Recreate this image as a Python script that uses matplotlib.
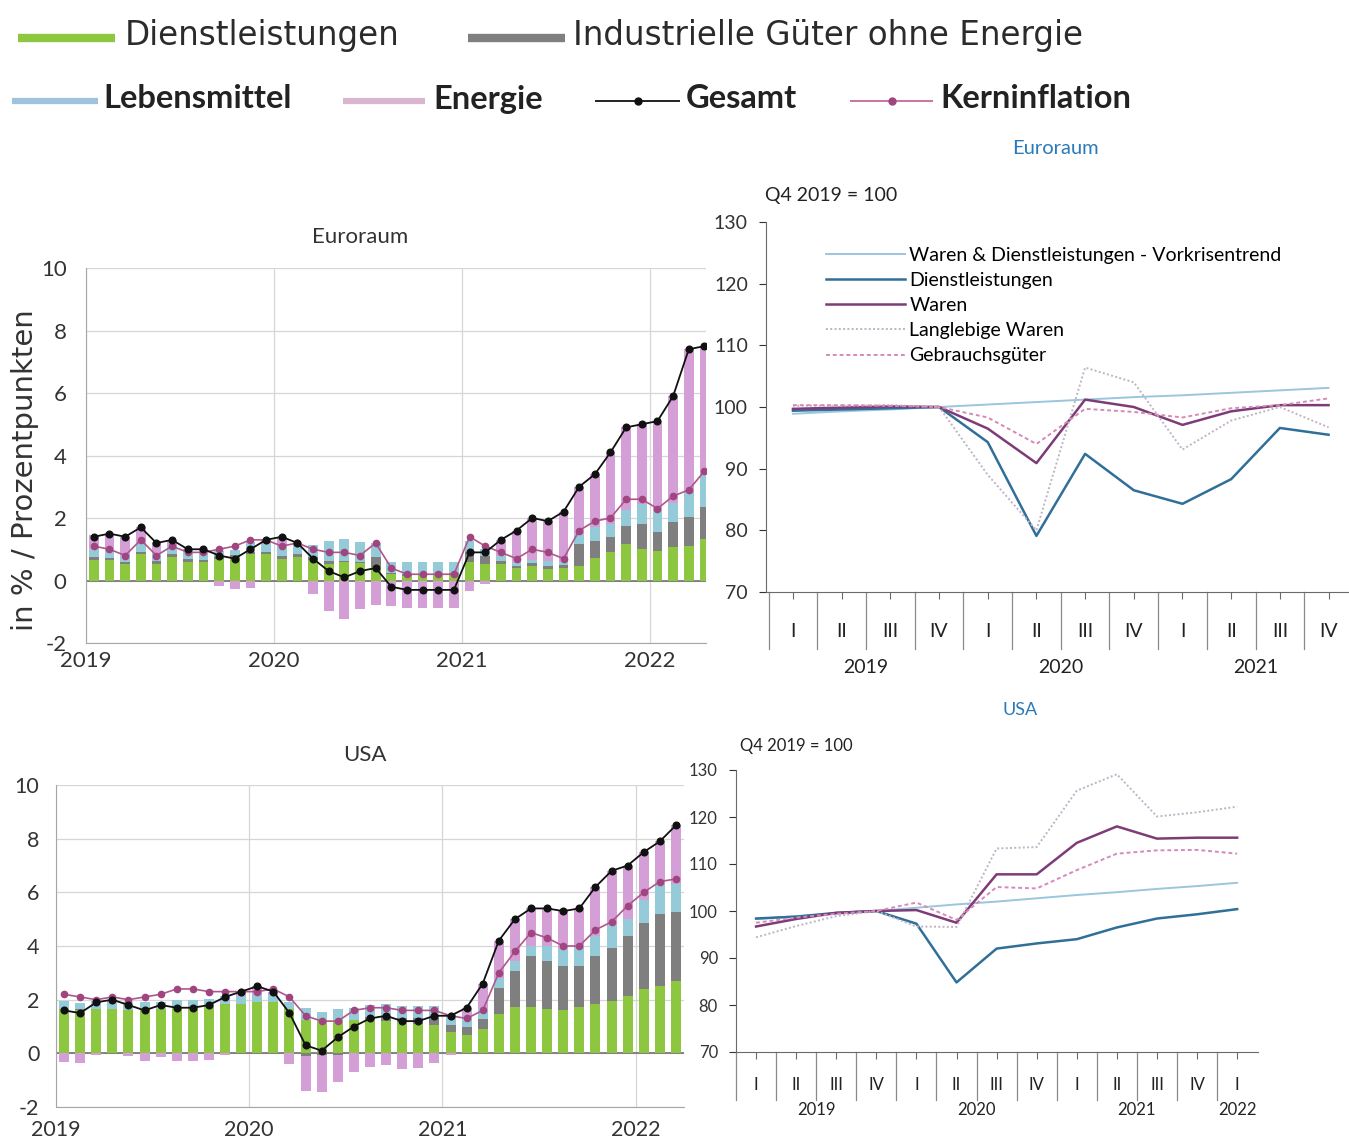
import numpy as np
import matplotlib
matplotlib.use("Agg")
import matplotlib.pyplot as plt
from matplotlib.lines import Line2D
import matplotlib.transforms as mtrans

W, H = 1349, 1142
NARROW = ['Lato', 'DejaVu Sans']
plt.rcParams['font.family'] = ['DejaVu Sans']
plt.rcParams['axes.unicode_minus'] = False

# Farben
GRUEN = '#8dc63f'
GRAU = '#7f7f7f'
HELLBLAU = '#95cbd8'
ROSA = '#d39fd6'
KERN = '#a0457f'
TREND = '#9cc6de'
DIENST_Q = '#2f6f98'
WAREN_Q = '#7d3c78'
LANGL = '#bfb3c6'
GEBR = '#d68ab8'
TITEL_BLAU = '#2a7ab9'

# Monatsdaten Euroraum (Jan 2019 - Apr 2022), Beiträge in Prozentpunkten
eu_dienst = [0.65, 0.65, 0.54, 0.86, 0.54, 0.76, 0.60, 0.60, 0.70, 0.76, 0.86, 0.86,
             0.70, 0.76, 0.65, 0.54, 0.58, 0.55, 0.42, 0.20, 0.15, 0.20, 0.18, 0.20,
             0.60, 0.52, 0.52, 0.41, 0.46, 0.36, 0.40, 0.46, 0.73, 0.90, 1.17, 1.00,
             0.95, 1.06, 1.11, 1.33]
eu_ind = [0.10, 0.08, 0.05, 0.05, 0.09, 0.09, 0.10, 0.07, 0.05, 0.05, 0.05, 0.05,
          0.08, 0.08, 0.09, 0.08, 0.06, 0.05, 0.32, 0.05, 0.05, 0.02, 0.02, 0.05,
          0.30, 0.27, 0.10, 0.05, 0.10, 0.10, 0.10, 0.70, 0.54, 0.49, 0.59, 0.81,
          0.59, 0.81, 0.92, 1.03]
eu_leb = [0.27, 0.24, 0.22, 0.27, 0.24, 0.24, 0.27, 0.25, 0.21, 0.16, 0.33, 0.27,
          0.30, 0.27, 0.40, 0.66, 0.70, 0.62, 0.45, 0.35, 0.38, 0.36, 0.38, 0.33,
          0.35, 0.22, 0.16, 0.10, 0.10, 0.15, 0.10, 0.32, 0.43, 0.43, 0.49, 0.65,
          0.70, 0.60, 0.76, 1.03]
eu_energie = [0.43, 0.53, 0.59, 0.52, 0.33, 0.21, 0.03, 0.08, -0.16, -0.27, -0.24, 0.12,
              0.32, 0.09, -0.44, -0.98, -1.24, -0.92, -0.79, -0.80, -0.88, -0.88, -0.88, -0.88,
              -0.35, -0.11, 0.52, 1.04, 1.34, 1.29, 1.60, 1.52, 1.70, 2.28, 2.65, 2.54,
              2.86, 3.43, 4.61, 4.11]
eu_gesamt = [1.4, 1.5, 1.4, 1.7, 1.2, 1.3, 1.0, 1.0, 0.8, 0.7, 1.0, 1.3,
             1.4, 1.2, 0.7, 0.3, 0.1, 0.3, 0.4, -0.2, -0.3, -0.3, -0.3, -0.3,
             0.9, 0.9, 1.3, 1.6, 2.0, 1.9, 2.2, 3.0, 3.4, 4.1, 4.9, 5.0,
             5.1, 5.9, 7.4, 7.5]
eu_kern = [1.1, 1.0, 0.8, 1.3, 0.8, 1.1, 0.9, 0.9, 1.0, 1.1, 1.3, 1.3,
           1.1, 1.2, 1.0, 0.9, 0.9, 0.8, 1.2, 0.4, 0.2, 0.2, 0.2, 0.2,
           1.4, 1.1, 0.9, 0.7, 1.0, 0.9, 0.7, 1.6, 1.9, 2.0, 2.6, 2.6,
           2.3, 2.7, 2.9, 3.5]

# Monatsdaten USA (Jan 2019 - Mär 2022)
us_dienst = [1.67, 1.62, 1.65, 1.65, 1.62, 1.62, 1.65, 1.72, 1.72, 1.75, 1.85, 1.85,
             1.90, 1.90, 1.65, 1.25, 1.20, 1.20, 1.25, 1.25, 1.20, 1.15, 1.10, 1.05,
             0.80, 0.67, 0.92, 1.47, 1.72, 1.72, 1.66, 1.60, 1.72, 1.84, 1.96, 2.15,
             2.39, 2.52, 2.70]
us_ind = [0.00, 0.02, 0.02, 0.00, 0.00, 0.00, 0.00, 0.02, 0.00, 0.00, 0.00, 0.00,
          0.00, 0.00, 0.00, -0.10, -0.05, -0.05, 0.00, 0.10, 0.18, 0.18, 0.20, 0.25,
          0.25, 0.30, 0.37, 0.98, 1.35, 1.90, 1.78, 1.66, 1.53, 1.78, 1.96, 2.21,
          2.45, 2.66, 2.58]
us_leb = [0.27, 0.25, 0.28, 0.28, 0.28, 0.30, 0.28, 0.25, 0.25, 0.27, 0.27, 0.28,
          0.28, 0.28, 0.28, 0.45, 0.35, 0.45, 0.45, 0.45, 0.45, 0.45, 0.45, 0.45,
          0.42, 0.40, 0.37, 0.37, 0.37, 0.37, 0.55, 0.61, 0.67, 0.74, 0.86, 0.65,
          0.86, 1.08, 1.04]
us_energie = [-0.34, -0.37, -0.05, 0.07, -0.10, -0.30, -0.15, -0.30, -0.30, -0.25, -0.05, 0.17,
              0.32, 0.12, -0.40, -1.30, -1.40, -1.00, -0.70, -0.50, -0.43, -0.58, -0.55, -0.35,
              -0.07, 0.33, 0.94, 1.38, 1.56, 1.41, 1.41, 1.43, 1.48, 1.84, 2.02, 1.99,
              1.80, 1.64, 2.18]
us_gesamt = [1.6, 1.5, 1.9, 2.0, 1.8, 1.6, 1.8, 1.7, 1.7, 1.8, 2.1, 2.3,
             2.5, 2.3, 1.5, 0.3, 0.1, 0.6, 1.0, 1.3, 1.4, 1.2, 1.2, 1.4,
             1.4, 1.7, 2.6, 4.2, 5.0, 5.4, 5.4, 5.3, 5.4, 6.2, 6.8, 7.0,
             7.5, 7.9, 8.5]
us_kern = [2.2, 2.1, 2.0, 2.1, 2.0, 2.1, 2.2, 2.4, 2.4, 2.3, 2.3, 2.3,
           2.3, 2.4, 2.1, 1.4, 1.2, 1.2, 1.6, 1.7, 1.7, 1.6, 1.6, 1.6,
           1.4, 1.3, 1.6, 3.0, 3.8, 4.5, 4.3, 4.0, 4.0, 4.6, 4.9, 5.5,
           6.0, 6.4, 6.5]

jahre = ['2019', '2020', '2021', '2022']

# Quartalsdaten, Q4 2019 = 100
quartale_eu = ['I', 'II', 'III', 'IV'] * 3
jahre_eu = ['2019', '2020', '2021']
eu_q_trend = [98.9, 99.3, 99.6, 100.0, 100.4, 100.8, 101.2, 101.6, 101.9, 102.3, 102.7, 103.1]
eu_q_dienst = [99.4, 99.6, 99.8, 100.0, 94.3, 79.1, 92.4, 86.5, 84.3, 88.3, 96.6, 95.5]
eu_q_waren = [99.7, 99.9, 100.1, 100.0, 96.5, 90.9, 101.2, 100.0, 97.1, 99.3, 100.3, 100.3]
eu_q_langl = [100.2, 100.2, 100.3, 100.0, 89.0, 80.0, 106.4, 104.0, 93.1, 97.8, 100.0, 96.7]
eu_q_gebr = [100.3, 100.3, 100.2, 100.0, 98.3, 94.0, 99.7, 99.2, 98.3, 99.8, 100.3, 101.4]

quartale_us = ['I', 'II', 'III', 'IV'] * 3 + ['I']
jahre_us = ['2019', '2020', '2021', '2022']
us_q_trend = [98.3, 98.9, 99.4, 100.0, 100.7, 101.4, 102.0, 102.7, 103.4, 104.0, 104.7, 105.3, 106.0]
us_q_dienst = [98.4, 98.8, 99.6, 100.0, 97.3, 84.8, 92.0, 93.1, 94.0, 96.5, 98.4, 99.3, 100.4]
us_q_waren = [96.7, 98.3, 99.6, 100.0, 100.2, 97.5, 107.8, 107.8, 114.5, 118.0, 115.4, 115.6, 115.6]
us_q_langl = [94.4, 96.8, 98.9, 100.0, 96.7, 96.6, 113.3, 113.6, 125.6, 129.1, 120.1, 121.0, 122.2]
us_q_gebr = [97.5, 98.6, 99.4, 100.0, 101.8, 98.1, 105.1, 104.8, 108.7, 112.2, 112.9, 113.0, 112.2]

fig = plt.figure(figsize=(W / 100, H / 100), dpi=100)


def box(x0, y0, x1, y1):
    # Pixelkoordinaten (oben links) -> Figure-Anteile
    return [x0 / W, 1 - y1 / H, (x1 - x0) / W, (y1 - y0) / H]


def ftext(x, y, s, **kw):
    fig.text(x / W, 1 - y / H, s, **kw)


def leg_linie(x0, x1, y, farbe, lw, marker=None, mfarbe=None):
    fig.add_artist(Line2D([x0 / W, x1 / W], [1 - y / H, 1 - y / H], color=farbe, lw=lw,
                          transform=fig.transFigure, solid_capstyle='butt'))
    if marker:
        xm = (x0 + x1) / 2
        fig.add_artist(Line2D([xm / W], [1 - y / H], marker=marker, ms=5, color=mfarbe,
                              transform=fig.transFigure))


# Legende oben
ftext(125, 35, 'Dienstleistungen', fontsize=23.5, va='center', color='#2b2b2b')
leg_linie(18, 115, 38, GRUEN, 6)
ftext(573, 35, 'Industrielle Güter ohne Energie', fontsize=23.5, va='center', color='#2b2b2b')
leg_linie(468, 565, 38, GRAU, 6)

for txt, tx in [('Lebensmittel', 103), ('Energie', 433), ('Gesamt', 686), ('Kerninflation', 940)]:
    ftext(tx, 99, txt, fontsize=23.5, va='center', family=NARROW, weight='bold', color='#222222')
leg_linie(12, 98, 101, '#9fc3df', 4.5)
leg_linie(343, 425, 101, '#d8b6d0', 4.5)
leg_linie(595, 680, 101, '#111111', 1.3, 'o', '#111111')
leg_linie(850, 933, 101, '#c46a98', 1.3, 'o', KERN)

ftext(25, 470, 'in % / Prozentpunkten', fontsize=21, rotation=90, ha='center', va='center',
      color='#333333')


def balkenchart(rect, teile, gesamt, kern, xmax, fs, pad_y, pad_x):
    ax = fig.add_axes(rect)
    n = len(gesamt)
    x = np.arange(n) + 0.5
    oben = np.zeros(n)
    unten = np.zeros(n)
    for werte, farbe in zip(teile, [GRUEN, GRAU, HELLBLAU, ROSA]):
        w = np.array(werte)
        basis = np.where(w >= 0, oben, unten)
        ax.bar(x, w, width=0.62, bottom=basis, color=farbe, linewidth=0, zorder=2)
        oben += np.clip(w, 0, None)
        unten += np.clip(w, None, 0)
    ax.plot(x, kern, color='#b0568c', lw=1.2, marker='o', ms=4.5, mfc=KERN, mec=KERN, zorder=4)
    ax.plot(x, gesamt, color='#111111', lw=1.3, marker='o', ms=4.8, zorder=5)
    ax.axhline(0, color='#7a7a7a', lw=1.3, zorder=1)
    ax.set_xlim(0, xmax)
    ax.set_ylim(-2, 10)
    ax.set_yticks(range(-2, 11, 2))
    ax.set_xticks([0, 12, 24, 36])
    ax.set_xticklabels(jahre)
    ax.grid(color='#d6d6d6', lw=0.9, zorder=0)
    ax.set_axisbelow(True)
    for s in ['top', 'right']:
        ax.spines[s].set_visible(False)
    for s in ['left', 'bottom']:
        ax.spines[s].set_color('#a6a6a6')
    ax.tick_params(axis='y', length=0, pad=pad_y, labelsize=fs, colors='#333333')
    ax.tick_params(axis='x', length=0, pad=pad_x, labelsize=fs, colors='#333333')
    for lab in ax.get_xticklabels() + ax.get_yticklabels():
        lab.set_family(NARROW)
    return ax


balkenchart(box(86, 268, 706, 643), [eu_dienst, eu_ind, eu_leb, eu_energie],
            eu_gesamt, eu_kern, 39.6, 16, 14, 6)
ftext(360, 237, 'Euroraum', fontsize=16, ha='center', va='center', family=NARROW, color='#333333')

balkenchart(box(56, 785, 684, 1107), [us_dienst, us_ind, us_leb, us_energie],
            us_gesamt, us_kern, 39.0, 15.5, 12, 9)
ftext(365, 755, 'USA', fontsize=16, ha='center', va='center', family=NARROW, color='#333333')


def quartalchart(rect, reihen, quartale, jahre_lab, jahre_pos, xlim, fs, y_rom, y_jahr, y_sep):
    ax = fig.add_axes(rect)
    n = len(quartale)
    x = np.arange(n)
    trend, dienst, waren, langl, gebr = reihen
    ax.plot(x, trend, color=TREND, lw=1.4, label='Waren & Dienstleistungen - Vorkrisentrend')
    ax.plot(x, dienst, color=DIENST_Q, lw=1.8, label='Dienstleistungen')
    ax.plot(x, waren, color=WAREN_Q, lw=1.8, label='Waren')
    ax.plot(x, langl, color=LANGL, lw=1.4, ls=(0, (1, 1.2)), label='Langlebige Waren')
    ax.plot(x, gebr, color=GEBR, lw=1.4, ls=(0, (2, 1.5)), label='Gebrauchsgüter')
    ax.set_xlim(*xlim)
    ax.set_ylim(70, 130)
    ax.set_yticks(range(70, 131, 10))
    ax.set_xticks(x)
    ax.set_xticklabels([])
    for s in ['top', 'right']:
        ax.spines[s].set_visible(False)
    for s in ['left', 'bottom']:
        ax.spines[s].set_color('#6a6a6a')
    ax.tick_params(axis='y', length=5, direction='out', pad=8, labelsize=fs, colors='#333333')
    ax.tick_params(axis='x', length=5, direction='out', colors='#6a6a6a')
    for lab in ax.get_yticklabels():
        lab.set_family(NARROW)
    trans = mtrans.blended_transform_factory(ax.transData, ax.transAxes)
    for i, q in enumerate(quartale):
        ax.text(i, y_rom, q, transform=trans, ha='center', va='center', fontsize=fs,
                family=NARROW, color='#222222')
    # Trennlinien zwischen den Quartalen
    for k in range(-1, n - 1):
        ax.plot([k + 0.5, k + 0.5], [0, y_sep], transform=trans, color='#8a8a8a', lw=0.9,
                clip_on=False)
    for lab, p in zip(jahre_lab, jahre_pos):
        ax.text(p, y_jahr, lab, transform=trans, ha='center', va='center', fontsize=fs,
                family=NARROW, color='#222222')
    return ax


ax_eu = quartalchart(box(766, 222, 1349, 592), [eu_q_trend, eu_q_dienst, eu_q_waren, eu_q_langl, eu_q_gebr],
                     quartale_eu, jahre_eu, [1.5, 5.5, 9.5], (-0.554, 11.42), 14,
                     -0.108, -0.205, -0.155)
ax_eu.legend(loc='upper left', bbox_to_anchor=(816 / W, 1 - 237 / H), bbox_transform=fig.transFigure,
             frameon=False, borderpad=0, labelspacing=0.42, handlelength=4.1, handletextpad=0.2,
             prop={'family': NARROW, 'size': 14})
ftext(1055, 148, 'Euroraum', fontsize=14.5, ha='center', va='center', family=NARROW, color=TITEL_BLAU)
ftext(765, 196, 'Q4 2019 = 100', fontsize=14, ha='left', va='center', family=NARROW, color='#222222')

quartalchart(box(736, 770, 1258, 1052), [us_q_trend, us_q_dienst, us_q_waren, us_q_langl, us_q_gebr],
             quartale_us, jahre_us, [1.5, 5.5, 9.5, 12], (-0.5, 12.52), 12,
             -0.117, -0.206, -0.17)
ftext(1020, 710, 'USA', fontsize=13, ha='center', va='center', family=NARROW, color=TITEL_BLAU)
ftext(740, 746, 'Q4 2019 = 100', fontsize=12, ha='left', va='center', family=NARROW, color='#222222')

fig.savefig('out.png', dpi=100, facecolor='white')
